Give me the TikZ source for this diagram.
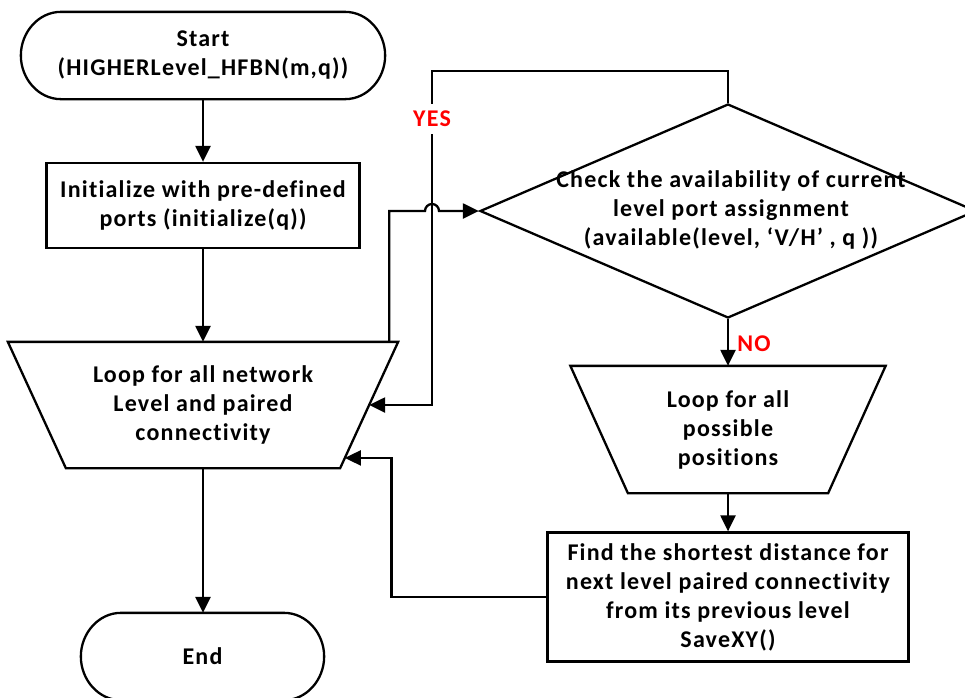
\documentclass[tikz,border=0pt]{standalone}
\usepackage{fontspec}
\setmainfont{Carlito}[LetterSpace=5,Ligatures=NoCommon]
\usetikzlibrary{shapes.geometric,arrows.meta,calc}
\begin{document}
\begin{tikzpicture}[x=1pt,y=-1pt,
  line width=2.3pt, line join=miter,
  txt/.style={align=center,font=\fontsize{24}{29}\selectfont\bfseries,inner sep=0pt},
  box/.style={txt,draw,rectangle},
  ghost/.style={txt,rectangle},
  arr/.style={-{Triangle[length=16pt,width=15pt]}},
  lbl/.style={font=\fontsize{24}{26}\selectfont\bfseries,text=red,inner xsep=0pt,inner ysep=7pt}]
\useasboundingbox (0,0) rectangle (965,697);

% Start terminator
\node[ghost,minimum width=362pt,minimum height=85pt] (start) at (203,55.5) {Start\\(HIGHERLevel\_HFBN(m,q))};
\draw ([xshift=40pt]start.north west) -- ([xshift=-40pt]start.north east)
  .. controls ([xshift=-17.9pt]start.north east) and ([yshift=23.5pt]start.east) .. (start.east)
  .. controls ([yshift=-23.5pt]start.east) and ([xshift=-17.9pt]start.south east) .. ([xshift=-40pt]start.south east)
  -- ([xshift=40pt]start.south west)
  .. controls ([xshift=17.9pt]start.south west) and ([yshift=-23.5pt]start.west) .. (start.west)
  .. controls ([yshift=23.5pt]start.west) and ([xshift=17.9pt]start.north west) .. cycle;

% Initialize box
\node[box,minimum width=313pt,minimum height=85pt] (init) at (203,205.5) {Initialize with pre-defined\\ports (initialize(q))};

% Left loop trapezoid
\node[ghost,minimum width=388pt,minimum height=124pt] (ltrap) at (203,405) {Loop for all network\\Level and paired\\connectivity};
\draw (ltrap.north west) -- (ltrap.north east) -- ([xshift=-58pt]ltrap.south east)
  -- ([xshift=58pt]ltrap.south west) -- cycle;

% Decision diamond
\node[draw,diamond,minimum width=496pt,minimum height=214pt,inner sep=0pt] (dec) at (728,211) {};
\node[txt] (dtext) at (731,210) {Check the availability of current\\level port assignment\\(available(level, ‘V/H’ , q ))};

% Right loop trapezoid
\node[ghost,minimum width=313pt,minimum height=125pt] (rtrap) at (728,429.5) {Loop for all\\possible\\positions};
\draw (rtrap.north west) -- (rtrap.north east) -- ([xshift=-57.5pt]rtrap.south east)
  -- ([xshift=57.5pt]rtrap.south west) -- cycle;

% Find box
\node[box,minimum width=361pt,minimum height=129pt] (find) at (728,597) {Find the shortest distance for\\next level paired connectivity\\from its previous level\\SaveXY()};

% End terminator
\node[ghost,minimum width=241pt,minimum height=85pt] (endn) at (202.5,656.5) {End};
\draw ([xshift=40pt]endn.north west) -- ([xshift=-40pt]endn.north east)
  .. controls ([xshift=-17.9pt]endn.north east) and ([yshift=23.5pt]endn.east) .. (endn.east)
  .. controls ([yshift=-23.5pt]endn.east) and ([xshift=-17.9pt]endn.south east) .. ([xshift=-40pt]endn.south east)
  -- ([xshift=40pt]endn.south west)
  .. controls ([xshift=17.9pt]endn.south west) and ([yshift=-23.5pt]endn.west) .. (endn.west)
  .. controls ([yshift=23.5pt]endn.west) and ([xshift=17.9pt]endn.north west) .. cycle;

% helper coordinates
\coordinate (yc) at (432,71);
\coordinate (yesin) at ($(ltrap.north east)!0.5!([xshift=-58pt]ltrap.south east)$);
\coordinate (fbin) at ($(ltrap.north east)!0.919!([xshift=-58pt]ltrap.south east)$);

% connectors
\draw[arr] (start.south) -- (start.south |- init.north);
\draw[arr] (init.south) -- (init.south |- ltrap.north);
\draw[arr] (ltrap.south) -- (ltrap.south |- endn.north);
\draw[arr] (dec.south) -- (dec.south |- rtrap.north);
\draw[arr] (rtrap.south) -- (rtrap.south |- find.north);
\draw[arr] (find.west) -- ++(-155,0) |- (fbin);
\draw[arr] ([xshift=-9pt]ltrap.north east) |- ($(yc |- dec.west)+(-7,0)$)
  arc[start angle=180,end angle=0,radius=7pt] -- (dec.west);
\draw[arr] (dec.north) |- (yc) -- (yc |- yesin) -- (yesin);

% labels
\node[lbl,fill=white] (yes) at (432,119) {YES};
\node[lbl] (no) at (754,344) {NO};
\end{tikzpicture}
\end{document}
